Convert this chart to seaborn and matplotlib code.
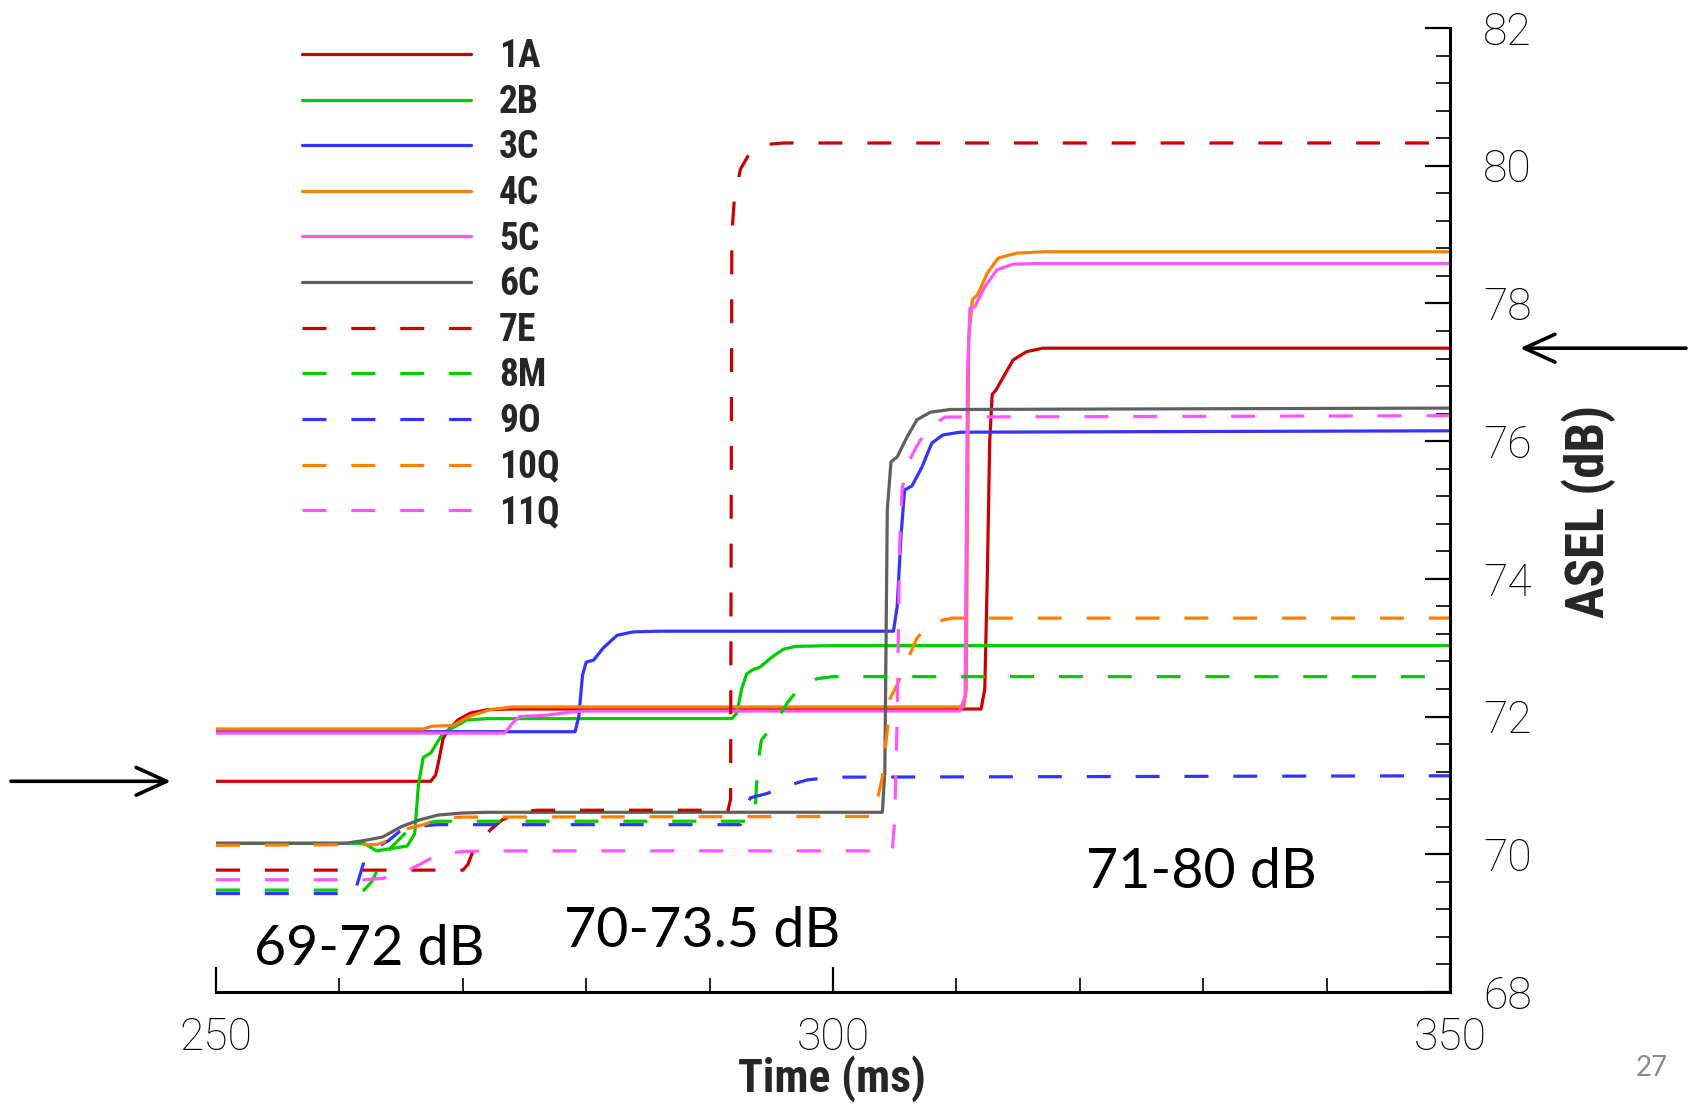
import numpy as np
import pandas as pd
import matplotlib
matplotlib.use("Agg")
import matplotlib.pyplot as plt
from matplotlib import font_manager
from matplotlib.ticker import MultipleLocator
import seaborn as sns

# ---------------- data ----------------
series_names = ["1A", "2B", "3C", "4C", "5C", "6C", "7E", "8M", "9O", "10Q", "11Q"]

t_1A = [250, 267.4, 267.8, 268.1, 268.4, 268.8, 269.6, 270.6, 272.0, 274, 312.0, 312.3, 312.5, 312.7, 312.9, 313.2, 313.8, 314.6, 315.7, 317.0, 350]
y_1A = [71.06, 71.06, 71.15, 71.4, 71.68, 71.8, 71.95, 72.05, 72.1, 72.11, 72.11, 72.4, 74.0, 76.0, 76.68, 76.74, 76.93, 77.18, 77.3, 77.35, 77.35]

t_2B = [250, 262, 263, 265.5, 266.1, 266.4, 266.8, 267.4, 268.4, 270.3, 272, 291.8, 292.2, 292.6, 293.0, 293.5, 294.1, 295.1, 296.0, 297.0, 300, 350]
y_2B = [70.16, 70.16, 70.05, 70.12, 70.3, 71.0, 71.41, 71.47, 71.76, 71.95, 71.97, 71.97, 72.05, 72.4, 72.62, 72.68, 72.72, 72.87, 72.98, 73.02, 73.03, 73.03]

t_3C = [250, 279.1, 279.4, 279.7, 280.0, 280.6, 281.4, 282.5, 283.8, 286, 304.9, 305.2, 305.5, 305.8, 306.4, 307.2, 308.0, 308.9, 310.3, 350]
y_3C = [71.78, 71.78, 72.0, 72.6, 72.79, 72.82, 73.0, 73.18, 73.23, 73.24, 73.24, 73.6, 74.6, 75.29, 75.35, 75.62, 75.97, 76.09, 76.13, 76.15]

t_4C = [250, 266.8, 267.5, 269.2, 270.5, 272.2, 274, 310.6, 310.8, 311.0, 311.3, 311.7, 312.5, 313.4, 314.9, 317, 350]
y_4C = [71.82, 71.82, 71.86, 71.87, 72.0, 72.1, 72.14, 72.14, 72.4, 77.5, 78.06, 78.12, 78.44, 78.66, 78.73, 78.75, 78.75]

t_5C = [250, 273.4, 274.0, 274.6, 276.8, 278.9, 280, 310.3, 310.7, 310.9, 311.1, 311.5, 312.3, 313.3, 314.6, 316.5, 350]
y_5C = [71.76, 71.76, 71.9, 72.0, 72.02, 72.07, 72.08, 72.08, 72.3, 77.0, 77.93, 77.95, 78.24, 78.49, 78.57, 78.58, 78.58]

t_6C = [250, 260.5, 262, 263.5, 265, 266.5, 268, 270, 272, 304.0, 304.2, 304.4, 304.7, 305.2, 306.0, 306.8, 307.9, 309.5, 350]
y_6C = [70.16, 70.16, 70.2, 70.25, 70.4, 70.5, 70.57, 70.6, 70.61, 70.61, 71.2, 75.0, 75.7, 75.77, 76.06, 76.31, 76.42, 76.46, 76.48]

t_7E = [250, 270.0, 270.4, 270.8, 272.2, 273.2, 274.9, 276, 291.5, 291.7, 291.8, 292.0, 292.5, 293.3, 294.7, 296, 350]
y_7E = [69.77, 69.77, 69.85, 70.03, 70.35, 70.5, 70.62, 70.64, 70.64, 70.8, 79.0, 79.5, 79.95, 80.2, 80.31, 80.33, 80.33]

t_8M = [250, 262.0, 262.6, 263.3, 264.2, 265.3, 266.5, 268, 293.5, 293.7, 293.9, 294.2, 295.3, 296.3, 297.2, 298.7, 300, 350]
y_8M = [69.48, 69.48, 69.6, 69.85, 70.1, 70.3, 70.44, 70.48, 70.48, 70.7, 71.3, 71.66, 71.9, 72.2, 72.4, 72.55, 72.58, 72.58]

t_9O = [250, 261.2, 261.5, 262.0, 263.0, 264.0, 265.0, 266.5, 268, 292.5, 292.9, 293.3, 294.6, 296.4, 297.9, 300, 350]
y_9O = [69.43, 69.43, 69.6, 69.9, 70.1, 70.2, 70.35, 70.41, 70.43, 70.43, 70.65, 70.82, 70.88, 71.0, 71.08, 71.12, 71.14]

t_10Q = [250, 263, 264, 265.0, 266.8, 268.5, 270, 303.3, 303.6, 304.0, 304.2, 304.4, 304.6, 305.3, 306.1, 306.8, 308.0, 309.7, 350]
y_10Q = [70.13, 70.14, 70.2, 70.35, 70.43, 70.53, 70.54, 70.55, 70.8, 71.12, 71.5, 71.8, 72.25, 72.5, 72.85, 73.14, 73.37, 73.43, 73.43]

t_11Q = [250, 262, 263.5, 265, 266.5, 268, 270, 272, 304.8, 305.0, 305.2, 305.4, 305.6, 306.0, 306.7, 307.7, 309.1, 350]
y_11Q = [69.63, 69.63, 69.65, 69.72, 69.85, 70.0, 70.04, 70.05, 70.05, 70.5, 72.0, 74.5, 75.3, 75.65, 75.9, 76.2, 76.35, 76.37]

x_ticks = [250, 300, 350]
y_ticks = [68, 70, 72, 74, 76, 78, 80, 82]
range_labels = ["69-72 dB", "70-73.5 dB", "71-80 dB"]
range_label_x = [253.1, 278.2, 320.5]
range_label_y = [68.39, 68.65, 69.51]
arrow_levels = [71.06, 77.35]

# ---------------- styling ----------------
sns.set_style("white")

available = {f.name for f in font_manager.fontManager.ttflist}
def pick(*names):
    for n in names:
        if n in available:
            return n
    return "DejaVu Sans"

narrow = pick("Liberation Sans Narrow", "Roboto Condensed", "Liberation Sans")
light = pick("Roboto", "Open Sans", "Liberation Sans")
calib = pick("Lato", "Open Sans", "Liberation Sans")
plt.rcParams["font.family"] = [narrow, "DejaVu Sans"]

colors = {
    "1A": "#cc0000", "2B": "#00cc00", "3C": "#3333ff", "4C": "#ff8000",
    "5C": "#ff55ff", "6C": "#606060", "7E": "#cc0000", "8M": "#00cc00",
    "9O": "#3333ff", "10Q": "#ff8000", "11Q": "#ff55ff",
}
dashed = {"7E", "8M", "9O", "10Q", "11Q"}
data = {
    "1A": (t_1A, y_1A), "2B": (t_2B, y_2B), "3C": (t_3C, y_3C),
    "4C": (t_4C, y_4C), "5C": (t_5C, y_5C), "6C": (t_6C, y_6C),
    "7E": (t_7E, y_7E), "8M": (t_8M, y_8M), "9O": (t_9O, y_9O),
    "10Q": (t_10Q, y_10Q), "11Q": (t_11Q, y_11Q),
}

W, H = 1694, 1108
fig = plt.figure(figsize=(W / 100, H / 100), dpi=100)
ax = fig.add_axes([216 / W, 1 - 992 / H, 1234 / W, 964 / H])

lw = 2.3
handles = []
for name in series_names:
    t, y = data[name]
    df = pd.DataFrame({"t": t, "y": y})
    ls = (0, (7.5, 7.8)) if name in dashed else "-"
    sns.lineplot(data=df, x="t", y="y", ax=ax, color=colors[name], lw=lw,
                 linestyle=ls, estimator=None, sort=False, label=name,
                 legend=False)
    handles.append(ax.get_lines()[-1])

ax.set_xlim(250, 350)
ax.set_ylim(68, 82)
ax.set_xticks(x_ticks)
ax.set_yticks(y_ticks)
ax.xaxis.set_minor_locator(MultipleLocator(10))
ax.yaxis.set_minor_locator(MultipleLocator(0.4))
ax.yaxis.tick_right()
ax.yaxis.set_label_position("right")
for s in ["left", "top"]:
    ax.spines[s].set_visible(False)
for s in ["right", "bottom"]:
    ax.spines[s].set_visible(True)
    ax.spines[s].set_linewidth(2.2)
    ax.spines[s].set_color("black")
ax.grid(False)

ax.tick_params(axis="both", which="major", direction="in", length=18, width=1.6,
               color="black")
ax.tick_params(axis="both", which="minor", direction="in", length=10, width=1.2,
               color="black")
ax.tick_params(axis="x", which="both", bottom=True, top=False, pad=18)
ax.tick_params(axis="y", which="both", right=True, left=False, pad=24)
for lab in ax.get_xticklabels() + ax.get_yticklabels():
    lab.set_fontfamily([light, "DejaVu Sans"])
    lab.set_fontweight("light")
    lab.set_fontsize(32)
    lab.set_color("black")

ax.set_xlabel("Time (ms)", fontsize=33, fontweight="bold", labelpad=0,
              family=[narrow, "DejaVu Sans"])
ax.set_ylabel("ASEL (dB)", fontsize=38, fontweight="bold", labelpad=10,
              family=[narrow, "DejaVu Sans"])
ax.xaxis.label.set_va("center")
ax.xaxis.set_label_coords((832 - 216) / 1234, -(1079 - 992) / 964)
ax.yaxis.set_label_coords((1561 - 216) / 1234, 1 - (511 - 28) / 964)

leg = fig.legend(handles=handles, labels=series_names, loc="upper left",
                 bbox_to_anchor=(302 / W, 1 - 38 / H), frameon=False,
                 prop={"family": [narrow, "DejaVu Sans"], "weight": "bold", "size": 27},
                 handlelength=4.5, handletextpad=0.75, labelspacing=0.23,
                 borderpad=0, borderaxespad=0)

for txt, x, y in zip(range_labels, range_label_x, range_label_y):
    ax.text(x, y, txt, fontsize=40, family=[calib, "DejaVu Sans"],
            ha="left", va="baseline", color="black")

# arrows outside the axes (figure pixels)
def level_to_fig_y(v):
    disp = ax.transData.transform((300, v))
    return disp[1]

fig.canvas.draw()
yl = level_to_fig_y(arrow_levels[0])
yr = level_to_fig_y(arrow_levels[1])
aprops = dict(arrowstyle="->,head_length=0.55,head_width=0.25", lw=2.6,
              color="black", mutation_scale=40, shrinkA=0, shrinkB=0)
fig.add_artist(plt.Annotation("", xy=(171, yl), xytext=(11, yl),
                              xycoords="figure pixels", textcoords="figure pixels",
                              arrowprops=aprops))
fig.add_artist(plt.Annotation("", xy=(1520, yr), xytext=(1686, yr),
                              xycoords="figure pixels", textcoords="figure pixels",
                              arrowprops=aprops))

fig.text(1652 / W, 1 - 1068 / H, "27", fontsize=20, color="#8c8c8c",
         ha="center", va="center", family=[calib, "DejaVu Sans"])

fig.savefig("out.png", dpi=100)
